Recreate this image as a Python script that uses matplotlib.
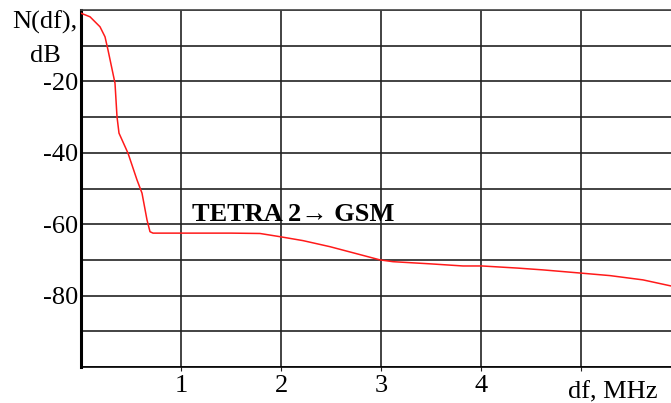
import matplotlib.pyplot as plt

# frequency offset (MHz) and level (dB)
freq = [0, 0.09, 0.19, 0.24, 0.27, 0.34, 0.36, 0.38, 0.47, 0.56, 0.61, 0.66,
        0.69, 0.72, 1.0, 1.5, 1.79, 1.99, 2.22, 2.49, 2.72, 2.99, 3.12, 3.49,
        3.82, 4.01, 4.37, 4.62, 5.0, 5.29, 5.62, 5.9]
level = [-0.9, -1.9, -4.7, -7.5, -11.2, -20.5, -29.9, -34.5, -40.1, -47.6,
         -51.3, -58.8, -62.1, -62.5, -62.5, -62.5, -62.6, -63.5, -64.6, -66.3,
         -68.0, -70.0, -70.5, -71.1, -71.7, -71.7, -72.3, -72.8, -73.7, -74.4,
         -75.6, -77.3]

x_ticks = [1, 2, 3, 4, 5]
x_labels = ['1', '2', '3', '4', '']
y_grid = [-100, -90, -80, -70, -60, -50, -40, -30, -20, -10, 0]
y_labels = ['', '', '-80', '', '-60', '', '-40', '', '-20', '', '']

serif = ['Liberation Serif', 'DejaVu Serif']
plt.rcParams['font.family'] = serif

W, H = 671, 403
fig = plt.figure(figsize=(W / 100, H / 100), dpi=100)
ax = fig.add_axes([81 / W, (H - 367) / H, (W - 81) / W, (367 - 10) / H])

ax.plot(freq, level, color='#ff1a1a', lw=1.1, zorder=3)

ax.set_xlim(0, 5.9)
ax.set_ylim(-100, 0)
ax.set_xticks(x_ticks)
ax.set_xticklabels(x_labels, fontsize=19)
ax.set_yticks(y_grid)
ax.set_yticklabels(y_labels, fontsize=19)
ax.tick_params(axis='x', length=3, pad=3, color='#222')
ax.tick_params(axis='y', length=0, pad=2)
ax.grid(True, color='#222', lw=1.2)

for side in ['right']:
    ax.spines[side].set_visible(False)
ax.spines['left'].set_linewidth(2.2)
ax.spines['bottom'].set_linewidth(1.2)
ax.spines['top'].set_linewidth(1.2)
ax.spines['top'].set_color('#444')

ax.text(1.11, -59.1, 'TETRA 2\u2192 GSM', fontsize=19, fontweight='bold',
        va='baseline', ha='left')
ax.text(5.32, -104, 'df, MHz', fontsize=19, ha='center', va='top')

fig.text(77 / W, (H - 29) / H, 'N(df),', fontsize=19, ha='right', va='baseline')
fig.text(45 / W, (H - 62) / H, 'dB', fontsize=19, ha='center', va='baseline')

plt.savefig('out.png', dpi=100)
